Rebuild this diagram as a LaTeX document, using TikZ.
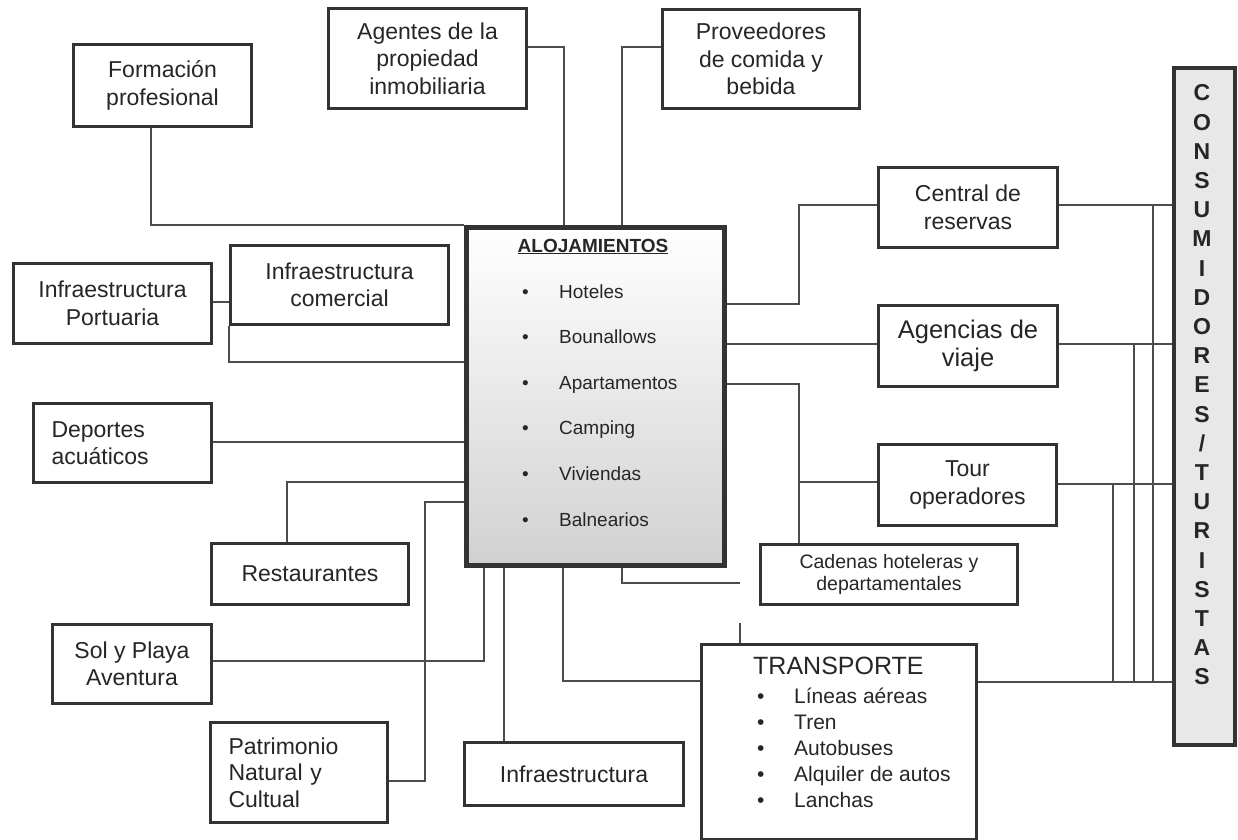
\documentclass[tikz,border=0pt]{standalone}
\usepackage{fontspec}
\setmainfont{Liberation Sans}
\begin{document}
\begin{tikzpicture}[x=1bp,y=-1bp,
  box/.style={draw=black!80, line width=3bp, fill=white, inner sep=0pt, anchor=north west, align=center, text=black!85, font=\fontsize{23bp}{27.5bp}\selectfont},
  conn/.style={draw=black!70, line width=1.3bp},
  txt/.style={inner sep=0pt, text=black!85, font=\fontsize{23bp}{27.5bp}\selectfont},
  item/.style={inner sep=0pt, anchor=base west, text=black!85, font=\fontsize{19bp}{23bp}\selectfont},
  titem/.style={inner sep=0pt, anchor=base west, text=black!85, font=\fontsize{21bp}{26bp}\selectfont}]
\useasboundingbox (0,0) rectangle (1238,840);
\fill[white] (0,0) rectangle (1238,840);

% ---------- boxes ----------
\node[box, minimum width=178bp, minimum height=82bp] (form) at (72,43) {Formación\\profesional};
\node[box, minimum width=198bp, minimum height=100bp] (agen) at (327,7) {Agentes de la\\propiedad\\inmobiliaria};
\node[box, minimum width=197bp, minimum height=99bp] (prov) at (661,8) {Proveedores\\de comida y\\bebida};
\node[box, minimum width=198bp, minimum height=80bp] (port) at (12,262) {Infraestructura\\Portuaria};
\node[box, minimum width=218bp, minimum height=79bp] (comer) at (229,244) {Infraestructura\\comercial};
\node[box, minimum height=79bp, align=left, text width=142bp, inner xsep=18bp] (dep) at (32,402) {Deportes\\acuáticos};
\node[box, minimum width=197bp, minimum height=61bp] (rest) at (210,542) {Restaurantes};
\node[box, minimum width=159bp, minimum height=79bp] (sol) at (51,623) {Sol y Playa\\Aventura};
\node[box, minimum height=100bp, align=left, text width=141bp, inner xsep=18bp, font=\fontsize{23bp}{26.5bp}\selectfont] (patr) at (209,721) {Patrimonio\\Natural y\\Cultual};
\node[box, minimum width=219bp, minimum height=63bp] (infra) at (463,741) {Infraestructura};

\node[box, line width=5bp, minimum width=258bp, minimum height=338bp, top color=white, bottom color=black!18] (aloj) at (464,225) {};

\node[box, minimum width=179bp, minimum height=80bp] (cent) at (877,166) {Central de\\reservas};
\node[box, minimum width=179bp, minimum height=81bp, font=\fontsize{25.5bp}{28bp}\selectfont] (agv) at (877,304) {Agencias de\\viaje};
\node[box, minimum width=178bp, minimum height=81bp] (tour) at (877,443) {Tour\\operadores};
\node[box, minimum width=257bp, minimum height=60bp, font=\fontsize{19.5bp}{22bp}\selectfont] (cad) at (759,543) {Cadenas hoteleras y\\departamentales};
\node[box, minimum width=275bp, minimum height=195bp] (transp) at (700,643) {};
\node[box, line width=4bp, fill=black!9, minimum width=61bp, minimum height=677bp] (cons) at (1172,66) {};

% ---------- texts inside ALOJAMIENTOS ----------
\node[txt, anchor=base, font=\bfseries\fontsize{19bp}{22bp}\selectfont] (aloj-t) at (593,252) {\underline{ALOJAMIENTOS}};
\node[item] (a1) at (522,298) {\makebox[37bp][l]{\textbullet}Hoteles};
\node[item] (a2) at (522,343.6) {\makebox[37bp][l]{\textbullet}Bounallows};
\node[item] (a3) at (522,389.2) {\makebox[37bp][l]{\textbullet}Apartamentos};
\node[item] (a4) at (522,434.8) {\makebox[37bp][l]{\textbullet}Camping};
\node[item] (a5) at (522,480.4) {\makebox[37bp][l]{\textbullet}Viviendas};
\node[item] (a6) at (522,526) {\makebox[37bp][l]{\textbullet}Balnearios};

% ---------- texts inside TRANSPORTE ----------
\node[txt, anchor=base west, font=\fontsize{25bp}{28bp}\selectfont] (tr-t) at (753,674) {TRANSPORTE};
\node[titem] (t1) at (757,703) {\makebox[37bp][l]{\textbullet}Líneas aéreas};
\node[titem] (t2) at (757,729.5) {\makebox[37bp][l]{\textbullet}Tren};
\node[titem] (t3) at (757,755.5) {\makebox[37bp][l]{\textbullet}Autobuses};
\node[titem] (t4) at (757,781.5) {\makebox[37bp][l]{\textbullet}Alquiler de autos};
\node[titem] (t5) at (757,807.5) {\makebox[37bp][l]{\textbullet}Lanchas};

% ---------- CONSUMIDORES / TURISTAS ----------
\node[txt, align=center, font=\bfseries\fontsize{23bp}{29.2bp}\selectfont] (cons-t) at (1202,385)
  {C\\O\\N\\S\\U\\M\\I\\D\\O\\R\\E\\S\\/\\T\\U\\R\\I\\S\\T\\A\\S};

% ---------- connectors ----------
\draw[conn] (form.south -| 151,0) |- (aloj.north west);
\draw[conn] (agen.east |- 0,47) -| (564,0 |- aloj.north);
\draw[conn] (prov.west |- 0,47) -| (622,0 |- aloj.north);
\draw[conn] (port.east |- 0,302) -- (comer.west |- 0,302);
\draw[conn] (comer.south west) |- (aloj.west |- 0,362);
\draw[conn] (dep.east |- 0,442) -- (aloj.west |- 0,442);
\draw[conn] (rest.north -| 287,0) |- (aloj.west |- 0,482);
\draw[conn] (patr.east |- 0,781) -| (425,502) -- (aloj.west |- 0,502);
\draw[conn] (sol.east |- 0,661) -| (484,0 |- aloj.south);
\draw[conn] (infra.north -| 504,0) -- (504,0 |- aloj.south);
\draw[conn] (563,0 |- aloj.south) |- (transp.west |- 0,681);
\coordinate (cadfree) at (740,583);
\draw[conn] (622,0 |- aloj.south) |- (cadfree);
\coordinate (trstub) at (740,623);
\draw[conn] (transp.north -| 740,0) -- (trstub);

\draw[conn] (aloj.east |- 0,304) -| (799,205) -- (cent.west |- 0,205);
\draw[conn] (aloj.east |- 0,344) -- (agv.west |- 0,344);
\draw[conn] (aloj.east |- 0,384) -| (799,0 |- cad.north);
\draw[conn] (tour.west |- 0,482) -- (799,482);

\draw[conn] (cent.east |- 0,205) -- (cons.west |- 0,205);
\draw[conn] (agv.east |- 0,344) -- (cons.west |- 0,344);
\draw[conn] (tour.east |- 0,484) -- (cons.west |- 0,484);
\draw[conn] (transp.east |- 0,682) -- (cons.west |- 0,682);
\draw[conn] (1153,205) -- (1153,682);
\draw[conn] (1134,344) -- (1134,682);
\draw[conn] (1113,484) -- (1113,682);
\end{tikzpicture}
\end{document}
